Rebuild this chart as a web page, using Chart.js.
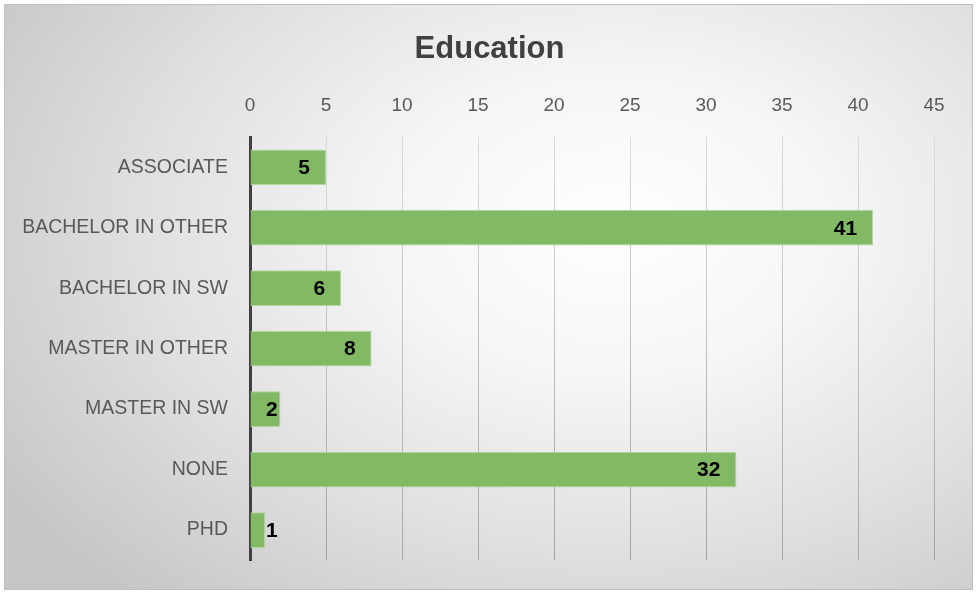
<!DOCTYPE html>
<html>
<head>
<meta charset="utf-8">
<script src="https://cdn.jsdelivr.net/npm/chart.js@4.4.1/dist/chart.umd.min.js"></script>
<style>
    html, body { margin: 0; padding: 0; background: #ffffff; }
    #wrap { position: relative; width: 977px; height: 594px; }
    #frame {
        position: absolute; left: 4px; top: 4px; width: 967px; height: 584px;
        border: 1px solid #bfbfbf;
        background: radial-gradient(ellipse 75% 85% at 63% 38%, #ffffff 0%, #f6f6f6 30%, #e0e0e0 65%, #c6c6c6 100%);
    }
    #chart { position: absolute; left: 0; top: 0; }
</style>
</head>
<body>
<div id="wrap">
    <div id="frame"></div>
    <canvas id="chart" width="977" height="594"></canvas>
</div>
<script>
// Chart data
const categories = ['ASSOCIATE', 'BACHELOR IN OTHER', 'BACHELOR IN SW', 'MASTER IN OTHER', 'MASTER IN SW', 'NONE', 'PHD'];
const counts = [5, 41, 6, 8, 2, 32, 1];
const xTicks = [0, 5, 10, 15, 20, 25, 30, 35, 40, 45];
const chartTitle = 'Education';

const FONT = "'Liberation Sans', Arial, sans-serif";

// Title centred on the whole frame (the built-in one centres on the padded box)
const frameTitle = {
    id: 'frameTitle',
    afterDraw(chart) {
        const ctx = chart.ctx;
        ctx.save();
        ctx.font = 'bold 31px ' + FONT;
        ctx.fillStyle = '#404040';
        ctx.textAlign = 'center';
        ctx.textBaseline = 'middle';
        ctx.fillText(chartTitle, chart.width / 2 + 1, 49);
        ctx.restore();
    }
};

// Value labels, Excel-style "inside end" (pushed out when the bar is too short)
const valueLabels = {
    id: 'valueLabels',
    afterDatasetsDraw(chart) {
        const ctx = chart.ctx;
        const meta = chart.getDatasetMeta(0);
        const base = chart.scales.x.getPixelForValue(0);
        ctx.save();
        ctx.font = 'bold 21px ' + FONT;
        ctx.fillStyle = '#000000';
        ctx.textAlign = 'left';
        ctx.textBaseline = 'middle';
        meta.data.forEach((bar, i) => {
            const txt = String(counts[i]);
            const w = ctx.measureText(txt).width;
            const left = Math.max(bar.x - 16 - w, base + 16);
            ctx.fillText(txt, left, bar.y + 1);
        });
        ctx.restore();
    }
};

new Chart(document.getElementById('chart'), {
    type: 'bar',
    data: {
        labels: categories,
        datasets: [{
            data: counts,
            backgroundColor: '#82b965',
            borderColor: '#b4d79e',
            borderWidth: 1,
            barPercentage: 0.59,
            categoryPercentage: 1
        }]
    },
    options: {
        indexAxis: 'y',
        responsive: false,
        animation: false,
        layout: { padding: { left: 0, right: 43, top: 0, bottom: 29 } },
        plugins: {
            legend: { display: false },
            tooltip: { enabled: false },
            title: { display: false }
        },
        scales: {
            x: {
                position: 'top',
                min: 0,
                max: 45,
                afterBuildTicks(scale) {
                    scale.ticks = xTicks.map(v => ({ value: v }));
                },
                afterFit(scale) { scale.height = 137; },
                ticks: { color: '#595959', font: { family: FONT, size: 19 }, padding: 20 },
                grid: {
                    drawTicks: false,
                    lineWidth: 1,
                    color(context) {
                        const area = context.chart.chartArea;
                        if (!area) return '#d9d9d9';
                        const g = context.chart.ctx.createLinearGradient(0, area.top, 0, area.bottom);
                        g.addColorStop(0, '#dadada');
                        g.addColorStop(1, '#a6a6a6');
                        return g;
                    }
                },
                border: { display: false }
            },
            y: {
                afterFit(scale) { scale.width = 250; },
                ticks: { color: '#595959', font: { family: FONT, size: 19.5 }, padding: 22 },
                grid: { display: false, drawTicks: false },
                border: { display: true, color: '#404040', width: 3 }
            }
        }
    },
    plugins: [valueLabels, frameTitle]
});
</script>
</body>
</html>
